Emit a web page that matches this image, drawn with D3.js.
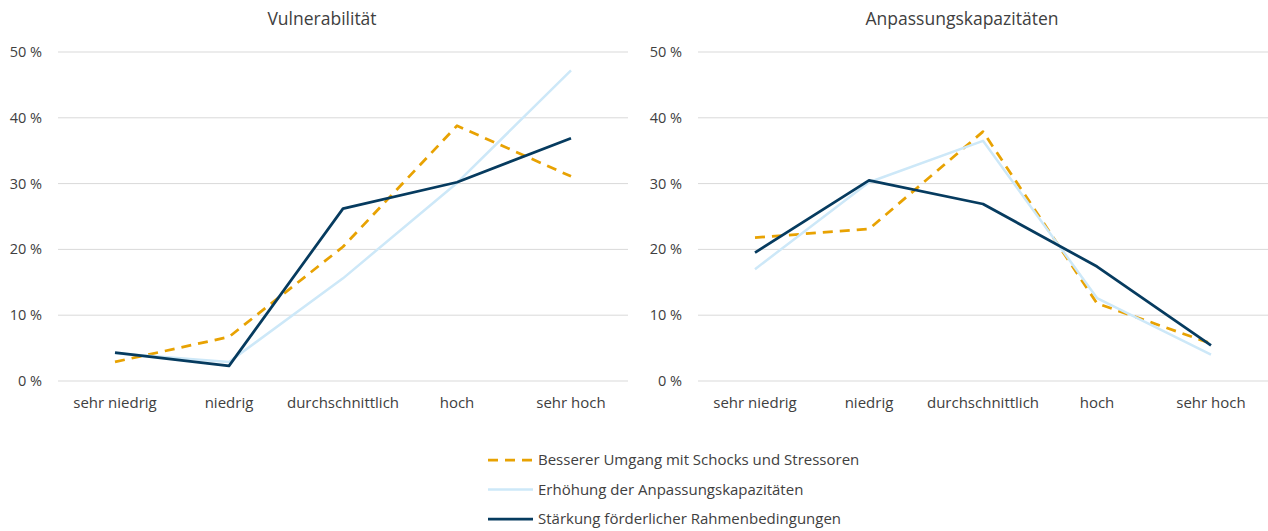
<!DOCTYPE html>
<html>
<head>
<meta charset="utf-8">
<script src="https://d3js.org/d3.v7.min.js"></script>
<style>
  body { margin: 0; background: #fff; }
  svg { display: block; font-family: "Open Sans", "Noto Sans", sans-serif; }
</style>
</head>
<body>
<div id="chart"></div>
<script>
var categories = ["sehr niedrig", "niedrig", "durchschnittlich", "hoch", "sehr hoch"];
var yTicks = [0, 10, 20, 30, 40, 50];
var seriesNames = ["Besserer Umgang mit Schocks und Stressoren", "Erhöhung der Anpassungskapazitäten", "Stärkung förderlicher Rahmenbedingungen"];

// Vulnerabilität
var vulnSchocks = [2.9, 6.7, 20.4, 38.8, 31.1];
var vulnAnpassung = [4.2, 2.9, 15.6, 30.1, 47.2];
var vulnRahmen = [4.3, 2.3, 26.2, 30.2, 36.9];

// Anpassungskapazitäten
var anpSchocks = [21.8, 23.1, 37.9, 11.8, 5.7];
var anpAnpassung = [17.0, 30.2, 36.5, 12.6, 4.0];
var anpRahmen = [19.5, 30.5, 26.9, 17.4, 5.4];

var width = 1268, height = 531;
var colors = ["#E8A202", "#CDE8F8", "#063B5F"];
var widths = [2.75, 2.5, 2.75];
var dashes = ["10,7", null, null];

var svg = d3.select("#chart").append("svg")
  .attr("width", width).attr("height", height);

function drawPanel(title, left, right, series){
  var top = 52, bottom = 381;
  var x = d3.scaleBand().domain(categories).range([left, right]);
  var y = d3.scaleLinear().domain([0, 50]).range([bottom, top]);
  var g = svg.append("g");

  g.append("text")
    .attr("x", (left + right) / 2 - 21).attr("y", 25)
    .attr("text-anchor", "middle")
    .style("font-size", "17.5px").style("fill", "#404040")
    .text(title);

  // grid
  g.selectAll(".grid").data(yTicks).enter().append("line")
    .attr("x1", left).attr("x2", right)
    .attr("y1", function(d){ return y(d); }).attr("y2", function(d){ return y(d); })
    .style("stroke", "#D9D9D9").style("stroke-width", 1);

  g.selectAll(".ylab").data(yTicks).enter().append("text")
    .attr("x", left - 16).attr("y", function(d){ return y(d) + 5; })
    .attr("text-anchor", "end")
    .style("font-size", "14.5px").style("fill", "#404040")
    .text(function(d){ return d + " %"; });

  g.selectAll(".xlab").data(categories).enter().append("text")
    .attr("x", function(d){ return x(d) + x.bandwidth() / 2; })
    .attr("y", 408)
    .attr("text-anchor", "middle")
    .style("font-size", "15px").style("fill", "#404040")
    .text(function(d){ return d; });

  var line = d3.line()
    .x(function(d, i){ return x(categories[i]) + x.bandwidth() / 2; })
    .y(function(d){ return y(d); });

  // draw in order: orange, light, dark
  series.forEach(function(s, i){
    g.append("path")
      .attr("d", line(s))
      .style("fill", "none")
      .style("stroke", colors[i])
      .style("stroke-width", widths[i])
      .style("stroke-dasharray", dashes[i])
      .style("stroke-linejoin", "round");
  });
}

drawPanel("Vulnerabilität", 58, 628, [vulnSchocks, vulnAnpassung, vulnRahmen]);
drawPanel("Anpassungskapazitäten", 698, 1268, [anpSchocks, anpAnpassung, anpRahmen]);

// legend
var legend = svg.append("g");
seriesNames.forEach(function(name, i){
  var yy = 460 + i * 29.5;
  legend.append("line")
    .attr("x1", 488).attr("x2", 533).attr("y1", yy).attr("y2", yy)
    .style("stroke", colors[i])
    .style("stroke-width", widths[i])
    .style("stroke-dasharray", dashes[i]);
  legend.append("text")
    .attr("x", 538).attr("y", yy + 5)
    .style("font-size", "15px").style("fill", "#404040")
    .text(name);
});
</script>
</body>
</html>
